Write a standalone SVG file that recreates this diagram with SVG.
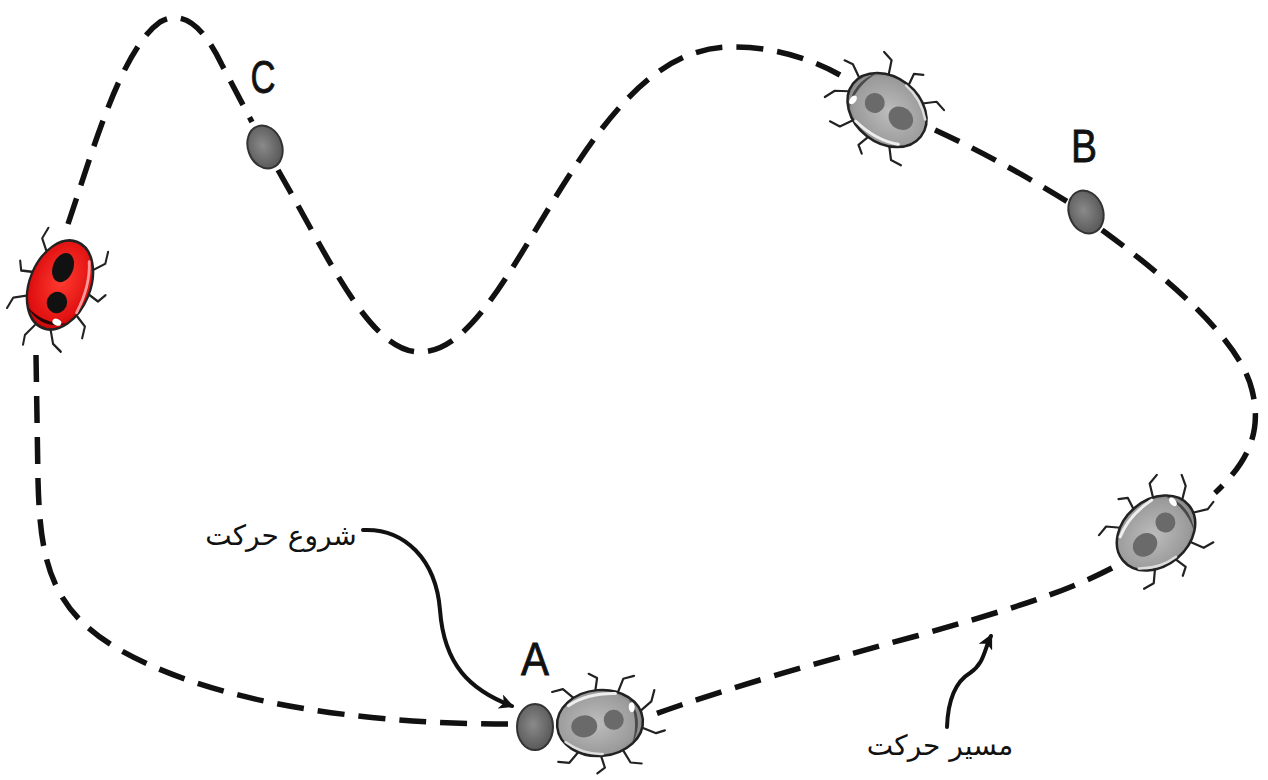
<svg xmlns="http://www.w3.org/2000/svg" xmlns:xlink="http://www.w3.org/1999/xlink" width="1268" height="780" viewBox="0 0 1268 780">
  <style>
    .track { fill: none; stroke: #111; stroke-width: 5.5; stroke-dasharray: 27 14; stroke-linecap: butt; }
    .pointer { fill: none; stroke: #111; stroke-width: 4; stroke-linecap: round; }
    .dot { fill: url(#dotFill); stroke: #333; stroke-width: 2; }
    .letter { font-family: "Liberation Sans", Arial, sans-serif; font-size: 46px; fill: #111; stroke: #111; stroke-width: 0.8; text-anchor: middle; }
    .caption { font-family: "DejaVu Sans", "Noto Sans", sans-serif; font-size: 28px; fill: #111; text-anchor: middle; }
    .leg { fill: none; stroke: #222; stroke-width: 2.2; stroke-linecap: round; stroke-linejoin: round; }
    .shell { stroke: #222; stroke-width: 2.5; }
  </style>
  <defs>
    <radialGradient id="dotFill" cx="0.45" cy="0.45" r="0.6">
      <stop offset="0" stop-color="#8a8a8a"/>
      <stop offset="1" stop-color="#555"/>
    </radialGradient>
    <radialGradient id="grayShell" cx="0.45" cy="0.5" r="0.6">
      <stop offset="0" stop-color="#bdbdbd"/>
      <stop offset="0.8" stop-color="#9a9a9a"/>
      <stop offset="1" stop-color="#6e6e6e"/>
    </radialGradient>
    <radialGradient id="redShell" cx="0.45" cy="0.5" r="0.6">
      <stop offset="0" stop-color="#ff3b30"/>
      <stop offset="0.8" stop-color="#e01010"/>
      <stop offset="1" stop-color="#a00000"/>
    </radialGradient>
    <marker id="tip" viewBox="0 0 12 12" refX="10" refY="6" markerWidth="15" markerHeight="15" markerUnits="userSpaceOnUse" orient="auto">
      <path d="M0,0 L12,6 L0,12 L3,6 Z" fill="#111"/>
    </marker>
    <!-- legs and antennae shared by both beetle kinds; head points along +x -->
    <g id="legs">
      <path class="leg" d="M20,-28 L27,-42 L38,-44 M-2,-32 L1,-45 L-7,-50 M-24,-27 L-34,-37 L-45,-35"/>
      <path class="leg" d="M20,28 L27,42 L38,44 M-2,32 L1,45 L-7,50 M-24,27 L-34,37 L-45,35"/>
      <path class="leg" d="M42,-9 L53,-17 L57,-28 M43,9 L55,15 L64,13"/>
    </g>
    <g id="bug-gray">
      <use href="#legs"/>
      <ellipse class="shell" cx="0" cy="0" rx="43" ry="33" fill="url(#grayShell)"/>
      <path d="M30,-24 Q46,0 30,24 Q40,0 30,-24 Z" fill="#4a4a4a"/>
      <ellipse cx="-16" cy="2" rx="13" ry="11" fill="#6a6a6a"/>
      <ellipse cx="14" cy="-2" rx="10" ry="10" fill="#6a6a6a"/>
      <path d="M-30,-20 Q-10,-31 18,-28" fill="none" stroke="#eee" stroke-width="3" stroke-linecap="round"/>
      <ellipse cx="33" cy="-13" rx="3" ry="5" fill="#fff"/>
      <path d="M-36,16 Q-20,30 0,31" fill="none" stroke="#ddd" stroke-width="2.5" stroke-linecap="round"/>
    </g>
    <g id="bug-red">
      <use href="#legs"/>
      <ellipse class="shell" cx="0" cy="0" rx="43" ry="33" fill="url(#redShell)"/>
      <path d="M30,-24 Q46,0 30,24 Q40,0 30,-24 Z" fill="#2a0000"/>
      <ellipse cx="-16" cy="4" rx="14" ry="11" fill="#111"/>
      <ellipse cx="16" cy="-4" rx="10" ry="11" fill="#111"/>
      <path d="M-30,-20 Q-10,-31 18,-28" fill="none" stroke="#ff9a9a" stroke-width="3" stroke-linecap="round"/>
      <ellipse cx="33" cy="-12" rx="3" ry="5" fill="#fff"/>
    </g>
  </defs>

  <rect width="1268" height="780" fill="#fff"/>

  <!-- dashed route and pointer arrows -->
  <g id="connectors">
    <path class="track" d="M508,724 C400,724 230,712 120,650 C50,610 40,560 38,480 L36,355"/>
    <path class="track" d="M68,224 C90,160 120,50 160,22 C185,8 205,30 222,65 L252,122"/>
    <path class="track" d="M278,170 C330,260 370,352 420,352 C470,352 510,270 560,190 C610,110 660,48 730,47 C770,46 810,58 840,75"/>
    <path class="track" d="M935,130 Q1000,160 1068,202"/>
    <path class="track" d="M1102,230 C1170,280 1240,340 1252,390 C1262,430 1250,460 1215,493"/>
    <path class="track" d="M1112,568 C1060,595 1000,612 920,635 C820,662 720,690 650,716"/>
    <path class="pointer" d="M363,530 C405,528 436,560 440,610 C444,665 470,690 512,706" marker-end="url(#tip)"/>
    <path class="pointer" d="M947,727 C948,700 955,682 970,673 C984,664 984,650 991,636" marker-end="url(#tip)"/>
  </g>

  <!-- waypoints -->
  <g id="point-c">
    <ellipse class="dot" cx="265" cy="147" rx="17" ry="22" transform="rotate(-20 265 147)"/>
    <text class="letter" x="263" y="93" textLength="25" lengthAdjust="spacingAndGlyphs">C</text>
  </g>
  <g id="point-b">
    <ellipse class="dot" cx="1086" cy="212" rx="17" ry="22" transform="rotate(-20 1086 212)"/>
    <text class="letter" x="1084" y="162" textLength="26" lengthAdjust="spacingAndGlyphs">B</text>
  </g>
  <g id="point-a">
    <ellipse class="dot" cx="535" cy="727" rx="18" ry="23"/>
    <text class="letter" x="535" y="675" textLength="28" lengthAdjust="spacingAndGlyphs">A</text>
  </g>

  <!-- beetles along the route -->
  <g id="beetle-red" transform="translate(60 285) rotate(112) scale(1.08 0.92)">
    <use href="#bug-red"/>
  </g>
  <g id="beetle-top" transform="translate(887 110) rotate(-142)">
    <use href="#bug-gray"/>
  </g>
  <g id="beetle-right" transform="translate(1156 533) rotate(-40)">
    <use href="#bug-gray"/>
  </g>
  <g id="beetle-start" transform="translate(600 723) rotate(-5)">
    <use href="#bug-gray"/>
  </g>

  <!-- captions -->
  <g id="label-start">
    <text class="caption" x="281" y="545" direction="rtl">شروع حرکت</text>
  </g>
  <g id="label-route">
    <text class="caption" x="940" y="755" direction="rtl">مسیر حرکت</text>
  </g>
</svg>
